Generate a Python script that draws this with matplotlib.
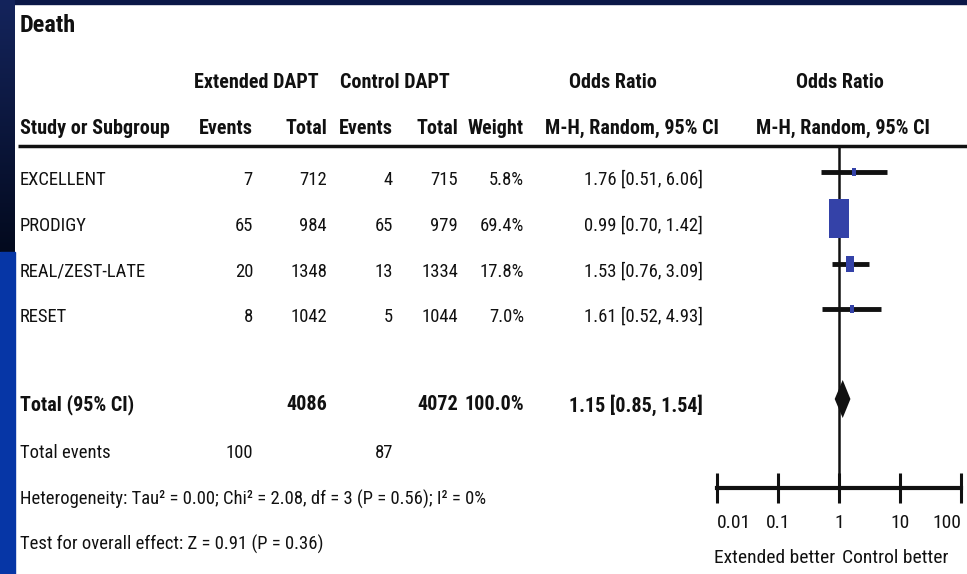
import matplotlib
matplotlib.use("Agg")
import matplotlib.pyplot as plt
import numpy as np
from matplotlib.font_manager import fontManager
from matplotlib.colors import LinearSegmentedColormap

# ---- data ----
studies = ["EXCELLENT", "PRODIGY", "REAL/ZEST-LATE", "RESET"]
ext_events = [7, 65, 20, 8]
ext_total = [712, 984, 1348, 1042]
ctl_events = [4, 65, 13, 5]
ctl_total = [715, 979, 1334, 1044]
weights = [5.8, 69.4, 17.8, 7.0]
odds_ratio = [1.76, 0.99, 1.53, 1.61]
ci_low = [0.51, 0.70, 0.76, 0.52]
ci_high = [6.06, 1.42, 3.09, 4.93]
pooled_or, pooled_low, pooled_high = 1.15, 0.85, 1.54
ext_total_sum, ctl_total_sum = 4086, 4072
ext_events_sum, ctl_events_sum = 100, 87
heterogeneity = "Heterogeneity: Tau² = 0.00; Chi² = 2.08, df = 3 (P = 0.56); I² = 0%"
overall_test = "Test for overall effect: Z = 0.91 (P = 0.36)"
scale_ticks = [0.01, 0.1, 1, 10, 100]
scale_labels = ["0.01", "0.1", "1", "10", "100"]

# prefer a narrow sans face when one is available
installed = {f.name for f in fontManager.ttflist}
narrow = [f for f in ["Liberation Sans Narrow", "Arial Narrow", "DejaVu Sans Condensed",
                      "Roboto Condensed", "Open Sans Condensed"] if f in installed]
if narrow:
    family = [narrow[0], "DejaVu Sans"]
    FS, FSB, FST = 13.4, 14.5, 17.5
else:
    family = ["Liberation Sans", "DejaVu Sans"]
    FS, FSB, FST = 11.6, 12.1, 14.3
plt.rcParams["font.family"] = family

W, H = 967, 574
fig = plt.figure(figsize=(W / 100, H / 100), dpi=100)
ax = fig.add_axes([0, 0, 1, 1])
ax.axis("off")

# slide frame: dark band on top, navy / blue band on the left
ax.add_patch(plt.Rectangle((0, 0), W, 4, color="#0b1848", zorder=1))
grad = np.linspace(0, 1, 256).reshape(-1, 1)
navy = LinearSegmentedColormap.from_list("navy", ["#14245c", "#030a1e"])
ax.imshow(grad, cmap=navy, extent=(0, 15, 252, 0), aspect="auto", zorder=1)
ax.add_patch(plt.Rectangle((0, 252), 15, H - 252, color="#0636a6", zorder=1))
ax.set_xlim(0, W)
ax.set_ylim(H, 0)

TXT = "#111111"

ax.text(20, 25, "Death", fontsize=FST, fontweight="bold", color=TXT, va="center", ha="left")

# column headers
y_h1, y_h2 = 82, 128
for x, s in [(256, "Extended DAPT"), (395, "Control DAPT"), (613, "Odds Ratio"), (840, "Odds Ratio")]:
    ax.text(x, y_h1, s, fontsize=FSB, fontweight="bold", color=TXT, ha="center", va="center")
ax.text(20, y_h2, "Study or Subgroup", fontsize=FSB, fontweight="bold", color=TXT, ha="left", va="center")
for x, s in [(253, "Events"), (327, "Total"), (393, "Events"), (458, "Total"), (524, "Weight")]:
    ax.text(x, y_h2, s, fontsize=FSB, fontweight="bold", color=TXT, ha="right", va="center")
ax.text(632, y_h2, "M-H, Random, 95% CI", fontsize=FSB, fontweight="bold", color=TXT, ha="center", va="center")
ax.text(843, y_h2, "M-H, Random, 95% CI", fontsize=FSB, fontweight="bold", color=TXT, ha="center", va="center")
ax.plot([18, W], [146, 146], color=TXT, lw=2.5, solid_capstyle="butt")

# study rows
row_y = [180, 226, 272, 317]
for i, name in enumerate(studies):
    y = row_y[i]
    ax.text(20, y, name, fontsize=FS, color=TXT, ha="left", va="center")
    ax.text(253, y, f"{ext_events[i]}", fontsize=FS, color=TXT, ha="right", va="center")
    ax.text(327, y, f"{ext_total[i]}", fontsize=FS, color=TXT, ha="right", va="center")
    ax.text(393, y, f"{ctl_events[i]}", fontsize=FS, color=TXT, ha="right", va="center")
    ax.text(458, y, f"{ctl_total[i]}", fontsize=FS, color=TXT, ha="right", va="center")
    ax.text(524, y, f"{weights[i]:.1f}%", fontsize=FS, color=TXT, ha="right", va="center")
    ax.text(703, y, f"{odds_ratio[i]:.2f} [{ci_low[i]:.2f}, {ci_high[i]:.2f}]",
            fontsize=FS, color=TXT, ha="right", va="center")

# pooled row
y_tot = 405
ax.text(20, y_tot, "Total (95% CI)", fontsize=FSB, fontweight="bold", color=TXT, ha="left", va="center")
ax.text(327, y_tot, f"{ext_total_sum}", fontsize=FSB, fontweight="bold", color=TXT, ha="right", va="center")
ax.text(458, y_tot, f"{ctl_total_sum}", fontsize=FSB, fontweight="bold", color=TXT, ha="right", va="center")
ax.text(524, y_tot, f"{sum(weights):.1f}%", fontsize=FSB, fontweight="bold", color=TXT, ha="right", va="center")
ax.text(703, y_tot, f"{pooled_or:.2f} [{pooled_low:.2f}, {pooled_high:.2f}]",
        fontsize=FSB, fontweight="bold", color=TXT, ha="right", va="center")

y_ev = 453
ax.text(20, y_ev, "Total events", fontsize=FS, color=TXT, ha="left", va="center")
ax.text(253, y_ev, f"{ext_events_sum}", fontsize=FS, color=TXT, ha="right", va="center")
ax.text(393, y_ev, f"{ctl_events_sum}", fontsize=FS, color=TXT, ha="right", va="center")
ax.text(20, 499, heterogeneity, fontsize=FS, color=TXT, ha="left", va="center")
ax.text(20, 544, overall_test, fontsize=FS, color=TXT, ha="left", va="center")

# ---- forest plot panel (log odds-ratio scale) ----
x0, x1 = 717, 961
y_top, y_axis = 146, 488
fax = fig.add_axes([x0 / W, (H - y_axis) / H, (x1 - x0) / W, (y_axis - y_top) / H])
fax.set_xscale("log")
fax.set_xlim(0.01, 100)
fax.set_ylim(y_axis, y_top)
fax.patch.set_alpha(0)
for s in ["top", "right", "left"]:
    fax.spines[s].set_visible(False)
fax.spines["bottom"].set_linewidth(3)
fax.spines["bottom"].set_color(TXT)
fax.yaxis.set_visible(False)
fax.set_xticks(scale_ticks)
fax.set_xticklabels(scale_labels)
fax.xaxis.set_minor_locator(matplotlib.ticker.NullLocator())
fax.tick_params(axis="x", direction="inout", length=22, width=2.2, color=TXT,
                labelsize=FS + 0.6, labelcolor=TXT, pad=8)
tl = fax.get_xticklabels()
tl[0].set_horizontalalignment("left")
tl[-1].set_horizontalalignment("right")

fax.axvline(1, color=TXT, lw=1.8, zorder=1)

mark_shift = 8
box_color = "#3442a8"
box = [(-0.5, -1), (0.5, -1), (0.5, 1), (-0.5, 1), (-0.5, -1)]
for i in range(len(studies)):
    y = row_y[i] - mark_shift
    fax.plot([ci_low[i], ci_high[i]], [y, y], color=TXT, lw=3.5, solid_capstyle="butt", zorder=2)
    # box height grows with study weight
    h_px = 39 * (weights[i] / max(weights)) ** 0.65
    fax.plot([odds_ratio[i]], [y], marker=box, markersize=max(h_px * 0.72, 5.5), color=box_color,
             markeredgewidth=0, zorder=3)

yd = y_tot - 6
fax.fill([pooled_low, pooled_or, pooled_high, pooled_or],
         [yd, yd - 19, yd, yd + 19], color=TXT, zorder=3, lw=0)

ax.text(775, 558, "Extended better", fontsize=FS + 0.6, color=TXT, ha="center", va="center")
ax.text(895, 558, "Control better", fontsize=FS + 0.6, color=TXT, ha="center", va="center")

fig.savefig("out.png", dpi=100)
